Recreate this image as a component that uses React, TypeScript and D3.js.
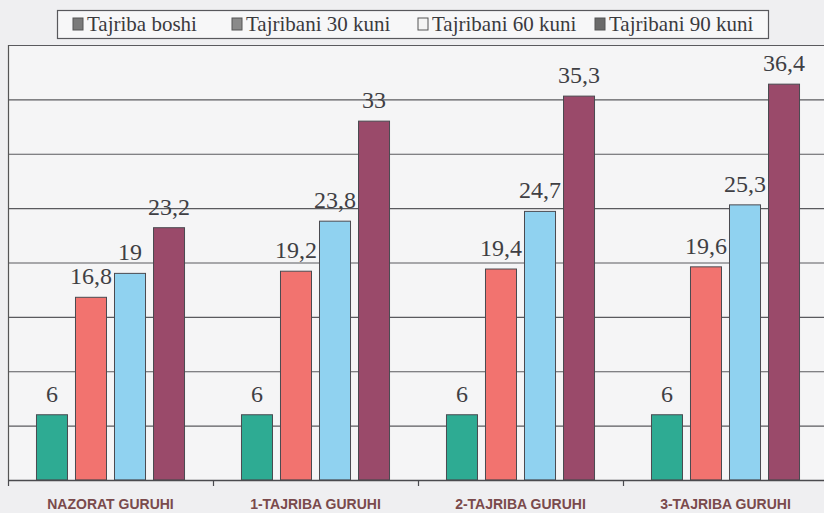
import React, { useEffect, useRef } from 'react';
import * as d3 from 'd3';

const groups = ['NAZORAT GURUHI', '1-TAJRIBA GURUHI', '2-TAJRIBA GURUHI', '3-TAJRIBA GURUHI'];
const seriesNames = ['Tajriba boshi', 'Tajribani 30 kuni', 'Tajribani 60 kuni', 'Tajribani 90 kuni'];
const seriesColors = ['#2eab93', '#f2736f', '#90d2f0', '#9a4a6a'];
const legendMarkers = ['#7a7a7a', '#8a8a8a', '#f4f4f4', '#6a6a6a'];
const boshi = [6, 6, 6, 6];
const kun30 = [16.8, 19.2, 19.4, 19.6];
const kun60 = [19, 23.8, 24.7, 25.3];
const kun90 = [23.2, 33, 35.3, 36.4];
const yTicks = [0, 5, 10, 15, 20, 25, 30, 35, 40];

const W = 824;
const H = 513;
const SERIF = "'Liberation Serif', 'Times New Roman', 'DejaVu Serif', serif";

const App: React.FC = () => {
  const svgRef = useRef<SVGSVGElement>(null);

  useEffect(() => {
    if (!svgRef.current) return;
    const svg = d3.select(svgRef.current);
    svg.selectAll('*').remove();

    const series = [boshi, kun30, kun60, kun90];

    // scanned page background
    svg.append('rect').attr('width', W).attr('height', H).attr('fill', '#efeff1');

    const x0 = d3.scaleBand<string>().domain(groups).range([8, 828]);
    const x1 = d3.scaleBand<string>().domain(seriesNames).range([0, x0.bandwidth()])
      .paddingInner(0.205).paddingOuter(0.73);
    const y = d3.scaleLinear().domain([0, 40]).range([480, 45]);

    // plot area
    svg.append('rect')
      .attr('x', 8).attr('y', y(40))
      .attr('width', 830).attr('height', y(0) - y(40))
      .attr('fill', '#f5f5f6');

    // gridlines
    svg.append('g').selectAll('line')
      .data(yTicks.slice(1))
      .join('line')
      .attr('x1', 8).attr('x2', W)
      .attr('y1', d => y(d) + 0.5).attr('y2', d => y(d) + 0.5)
      .attr('stroke', '#5a5a5e').attr('stroke-width', 1.2);

    // left frame
    svg.append('line')
      .attr('x1', 8.5).attr('x2', 8.5)
      .attr('y1', y(40)).attr('y2', y(0))
      .attr('stroke', '#555').attr('stroke-width', 1.2);

    // bars
    groups.forEach((g, gi) => {
      const gx = x0(g)!;
      series.forEach((vals, si) => {
        const bx = gx + x1(seriesNames[si])!;
        const v = vals[gi];
        svg.append('rect')
          .attr('x', bx).attr('y', y(v))
          .attr('width', x1.bandwidth()).attr('height', y(0) - y(v))
          .attr('fill', seriesColors[si])
          .attr('stroke', '#4a4a50').attr('stroke-width', 1);
        svg.append('text')
          .attr('x', bx + x1.bandwidth() / 2)
          .attr('y', y(v) - 13)
          .attr('text-anchor', 'middle')
          .attr('fill', '#3f3f44')
          .attr('font-family', SERIF)
          .attr('font-size', 24)
          .text(String(v).replace('.', ','));
      });
    });

    // x axis
    svg.append('line')
      .attr('x1', 8).attr('x2', W)
      .attr('y1', y(0) + 0.5).attr('y2', y(0) + 0.5)
      .attr('stroke', '#4a4a4e').attr('stroke-width', 1.4);
    svg.append('g').selectAll('line')
      .data(groups)
      .join('line')
      .attr('x1', d => x0(d)! + 0.5).attr('x2', d => x0(d)! + 0.5)
      .attr('y1', y(0)).attr('y2', y(0) + 6)
      .attr('stroke', '#4a4a4e').attr('stroke-width', 1.2);

    svg.append('g').selectAll('text')
      .data(groups)
      .join('text')
      .attr('x', d => x0(d)! + x0.bandwidth() / 2)
      .attr('y', 509)
      .attr('text-anchor', 'middle')
      .attr('fill', '#7a4a4c')
      .attr('font-family', "'Liberation Sans Narrow', 'Liberation Sans', Arial, sans-serif")
      .attr('font-weight', 'bold')
      .attr('font-size', 14)
      .text(d => d);

    // legend
    const lg = svg.append('g');
    lg.append('rect')
      .attr('x', 57.5).attr('y', 10.5)
      .attr('width', 711).attr('height', 28)
      .attr('fill', '#f7f7f8')
      .attr('stroke', '#58585c').attr('stroke-width', 1.2);
    const legendX = [73, 232, 418, 595];
    seriesNames.forEach((name, i) => {
      lg.append('rect')
        .attr('x', legendX[i]).attr('y', 18)
        .attr('width', 10).attr('height', 12)
        .attr('fill', legendMarkers[i])
        .attr('stroke', '#555').attr('stroke-width', 1);
      lg.append('text')
        .attr('x', legendX[i] + 14).attr('y', 31)
        .attr('fill', '#3a3a3e')
        .attr('font-family', SERIF)
        .attr('font-size', 21)
        .text(name);
    });
  }, []);

  return (
    <svg
      ref={svgRef}
      width={W}
      height={H}
      viewBox={`0 0 ${W} ${H}`}
      style={{ position: 'absolute', left: 0, top: 0, display: 'block' }}
    />
  );
};

export default App;
